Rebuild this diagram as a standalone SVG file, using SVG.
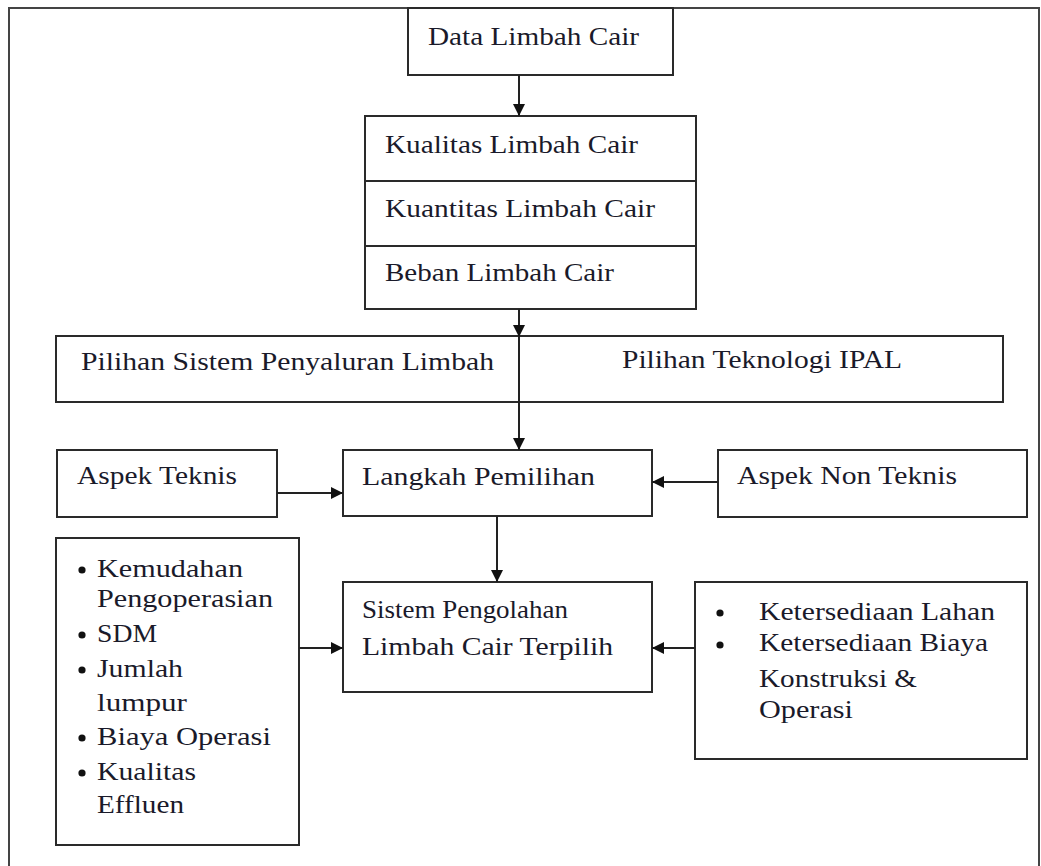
<svg xmlns="http://www.w3.org/2000/svg" width="1041" height="866" viewBox="0 0 1041 866">
<style>
.box{fill:#fff;stroke:#2a2a2a;stroke-width:2}
.frame{fill:none;stroke:#444;stroke-width:2}
.t{font-family:"Liberation Serif","DejaVu Serif",serif;font-size:26px;fill:#1a1a2a}
.c{stroke:#222;stroke-width:2;fill:none}
.dot{fill:#111}
</style>
<defs>
<marker id="ah" viewBox="0 0 10 10" refX="10" refY="5" markerWidth="12" markerHeight="12" markerUnits="userSpaceOnUse" orient="auto">
<path d="M0,0 L10,5 L0,10 Z" fill="#111"/>
</marker>
</defs>
<rect x="0" y="0" width="1041" height="866" fill="#fff"/>
<path class="frame" d="M9,875 L9,8 L1039,8 L1039,875"/>

<g id="data">
<rect class="box" x="408" y="8" width="265" height="67"/>
<text class="t" x="428" y="45" textLength="211" lengthAdjust="spacingAndGlyphs">Data Limbah Cair</text>
</g>

<g id="karakteristik">
<rect class="box" x="365" y="116" width="331" height="193"/>
<line class="box" x1="365" y1="181" x2="696" y2="181"/>
<line class="box" x1="365" y1="246" x2="696" y2="246"/>
<text class="t" x="385" y="153" textLength="253" lengthAdjust="spacingAndGlyphs">Kualitas Limbah Cair</text>
<text class="t" x="385" y="217" textLength="270" lengthAdjust="spacingAndGlyphs">Kuantitas Limbah Cair</text>
<text class="t" x="385" y="281" textLength="229" lengthAdjust="spacingAndGlyphs">Beban Limbah Cair</text>
</g>

<g id="pilihan">
<rect class="box" x="56" y="336" width="947" height="66"/>
<text class="t" x="81" y="370" textLength="413" lengthAdjust="spacingAndGlyphs">Pilihan Sistem Penyaluran Limbah</text>
<text class="t" x="622" y="368" textLength="280" lengthAdjust="spacingAndGlyphs">Pilihan Teknologi IPAL</text>
</g>

<g id="aspek-teknis">
<rect class="box" x="57" y="450" width="220" height="67"/>
<text class="t" x="77" y="484" textLength="160" lengthAdjust="spacingAndGlyphs">Aspek Teknis</text>
</g>

<g id="langkah">
<rect class="box" x="343" y="450" width="309" height="66"/>
<text class="t" x="362" y="485" textLength="233" lengthAdjust="spacingAndGlyphs">Langkah Pemilihan</text>
</g>

<g id="aspek-non-teknis">
<rect class="box" x="718" y="450" width="309" height="67"/>
<text class="t" x="737" y="484" textLength="220" lengthAdjust="spacingAndGlyphs">Aspek Non Teknis</text>
</g>

<g id="teknis-list">
<rect class="box" x="56" y="538" width="243" height="307"/>
<circle class="dot" cx="82" cy="570" r="3.6"/>
<text class="t" x="97" y="577" textLength="146" lengthAdjust="spacingAndGlyphs">Kemudahan</text>
<text class="t" x="97" y="607" textLength="176" lengthAdjust="spacingAndGlyphs">Pengoperasian</text>
<circle class="dot" cx="82" cy="635" r="3.6"/>
<text class="t" x="97" y="642" textLength="60" lengthAdjust="spacingAndGlyphs">SDM</text>
<circle class="dot" cx="82" cy="670" r="3.6"/>
<text class="t" x="97" y="677" textLength="86" lengthAdjust="spacingAndGlyphs">Jumlah</text>
<text class="t" x="97" y="711" textLength="90" lengthAdjust="spacingAndGlyphs">lumpur</text>
<circle class="dot" cx="82" cy="738" r="3.6"/>
<text class="t" x="97" y="745" textLength="174" lengthAdjust="spacingAndGlyphs">Biaya  Operasi</text>
<circle class="dot" cx="82" cy="773" r="3.6"/>
<text class="t" x="97" y="780" textLength="99" lengthAdjust="spacingAndGlyphs">Kualitas</text>
<text class="t" x="97" y="813" textLength="87" lengthAdjust="spacingAndGlyphs">Effluen</text>
</g>

<g id="sistem">
<rect class="box" x="343" y="582" width="309" height="110"/>
<text class="t" x="362" y="618" textLength="206" lengthAdjust="spacingAndGlyphs">Sistem Pengolahan</text>
<text class="t" x="362" y="655" textLength="251" lengthAdjust="spacingAndGlyphs">Limbah Cair Terpilih</text>
</g>

<g id="non-teknis-list">
<rect class="box" x="695" y="582" width="332" height="177"/>
<circle class="dot" cx="720" cy="613" r="3.6"/>
<text class="t" x="759" y="620" textLength="236" lengthAdjust="spacingAndGlyphs">Ketersediaan Lahan</text>
<circle class="dot" cx="720" cy="645" r="3.6"/>
<text class="t" x="759" y="651" textLength="229" lengthAdjust="spacingAndGlyphs">Ketersediaan Biaya</text>
<text class="t" x="759" y="687" textLength="158" lengthAdjust="spacingAndGlyphs">Konstruksi &amp;</text>
<text class="t" x="759" y="718" textLength="94" lengthAdjust="spacingAndGlyphs">Operasi</text>
</g>

<g id="connectors">
<line class="c" x1="519" y1="75" x2="519" y2="116" marker-end="url(#ah)"/>
<line class="c" x1="519" y1="309" x2="519" y2="337" marker-end="url(#ah)"/>
<line class="c" x1="519" y1="337" x2="519" y2="450" marker-end="url(#ah)"/>
<line class="c" x1="277" y1="493" x2="343" y2="493" marker-end="url(#ah)"/>
<line class="c" x1="718" y1="482" x2="652" y2="482" marker-end="url(#ah)"/>
<line class="c" x1="497" y1="516" x2="497" y2="582" marker-end="url(#ah)"/>
<line class="c" x1="299" y1="648" x2="343" y2="648" marker-end="url(#ah)"/>
<line class="c" x1="695" y1="648" x2="652" y2="648" marker-end="url(#ah)"/>
</g>
</svg>
